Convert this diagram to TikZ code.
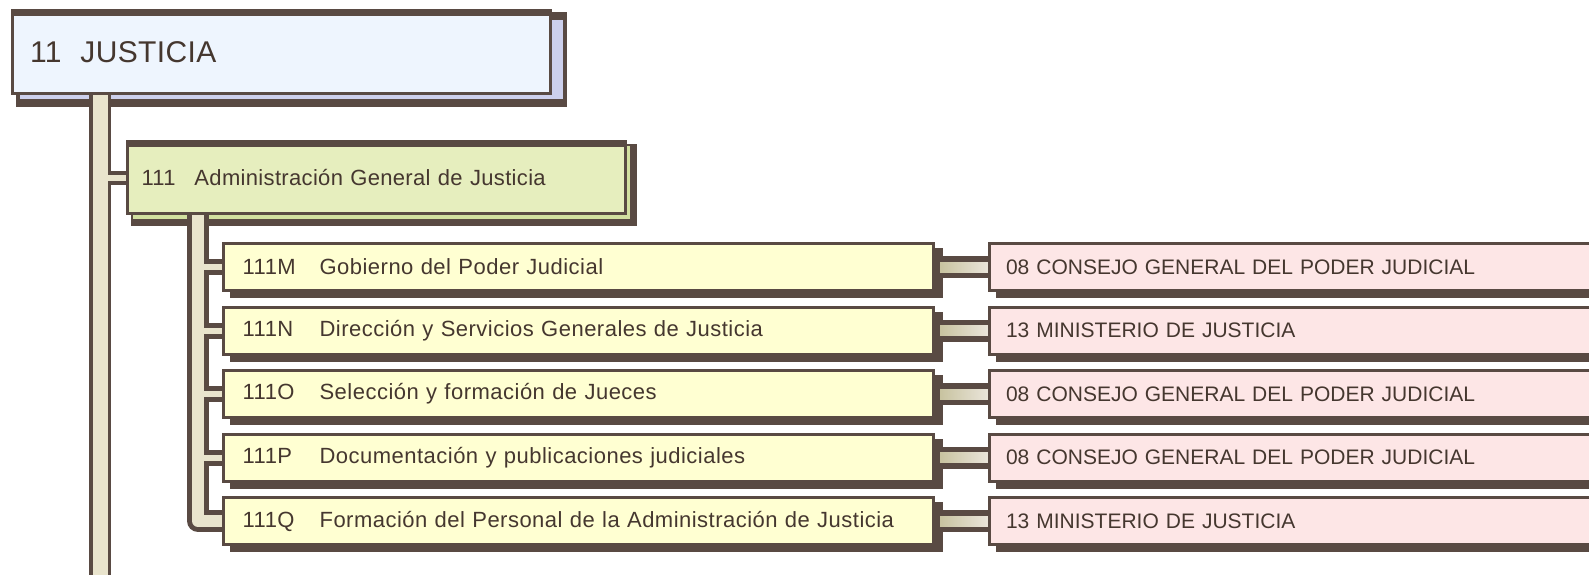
\documentclass[tikz,border=0pt]{standalone}
\usepackage{fontspec}
\setmainfont{Liberation Sans}
\usetikzlibrary{calc}
\pgfdeclarelayer{bglayer}
\pgfdeclarelayer{shadowlayer}
\pgfdeclarelayer{wirelayer}
\pgfsetlayers{bglayer,shadowlayer,wirelayer,main}
\definecolor{dk}{HTML}{594A43}
\definecolor{txt}{HTML}{45372F}
\definecolor{blu}{HTML}{EEF5FE}
\definecolor{lav}{HTML}{CDD0EC}
\definecolor{grn}{HTML}{E6EEBE}
\definecolor{grs}{HTML}{D2E0A0}
\definecolor{yel}{HTML}{FFFFD2}
\definecolor{pnk}{HTML}{FDE6E6}
\definecolor{bg}{HTML}{E9E4CD}
\definecolor{cl}{HTML}{C8C3A0}
\definecolor{cr}{HTML}{EBE6DC}
\newcommand\codebox[2]{\makebox[#1][l]{#2}}
\begin{document}
\begin{tikzpicture}[x=1pt,y=-1pt,
  box/.style={draw=dk, line width=3pt, outer sep=0pt, inner ysep=0pt, align=left, anchor=north west, text=txt},
  abox/.style={box, fill=blu, minimum height=83pt, text width=503pt, inner xsep=17.5pt, font=\fontsize{30}{34}\selectfont\addfontfeature{LetterSpace=1.2}},
  bbox/.style={box, fill=grn, minimum height=72pt, text width=470pt, inner xsep=14pt, font=\fontsize{22}{26}\selectfont\addfontfeature{LetterSpace=1.5}},
  ybox/.style={box, fill=yel, minimum height=47pt, text width=671.8pt, inner xsep=19.1pt, font=\fontsize{22}{26}\selectfont\addfontfeature{LetterSpace=2.2}},
  pbox/.style={box, fill=pnk, minimum height=47pt, text width=627pt, inner xsep=16.5pt, font=\fontsize{21}{25}\selectfont},
  wdark/.style={draw=dk, line join=round},
  wlight/.style={draw=bg, line join=round}]
\useasboundingbox (0,0) rectangle (1589,575);
\clip (0,0) rectangle (1589,575);

% main boxes
\node[abox] (a) at (12.5,10.5) {11\hspace*{19pt}JUSTICIA};
\node[bbox] (b) at (127.5,141.5) {\codebox{53pt}{111}Administración General de Justicia};
\node[ybox] (m) at (223.5,243.5) {\codebox{77pt}{111M}Gobierno del Poder Judicial};
\node[ybox] (n) at (223.5,307) {\codebox{77pt}{111N}Dirección y Servicios Generales de Justicia};
\node[ybox] (o) at (223.5,370.5) {\codebox{77pt}{111O}Selección y formación de Jueces};
\node[ybox] (p) at (223.5,434) {\codebox{77pt}{111P}Documentación y publicaciones judiciales};
\node[ybox] (q) at (223.5,497.5) {\codebox{77pt}{111Q}Formación del Personal de la Administración de Justicia};
\node[pbox] (pm) at (989.5,243.5) {08 CONSEJO GENERAL DEL PODER JUDICIAL};
\node[pbox] (pn) at (989.5,307) {13 MINISTERIO DE JUSTICIA};
\node[pbox] (po) at (989.5,370.5) {08 CONSEJO GENERAL DEL PODER JUDICIAL};
\node[pbox] (pp) at (989.5,434) {08 CONSEJO GENERAL DEL PODER JUDICIAL};
\node[pbox] (pq) at (989.5,497.5) {13 MINISTERIO DE JUSTICIA};

% thicker top edges
\draw[dk, line width=4pt] ([shift={(0,3.5)}]a.north west) -- ([shift={(0,3.5)}]a.north east);
\draw[dk, line width=4pt] ([shift={(0,3.5)}]b.north west) -- ([shift={(0,3.5)}]b.north east);

\coordinate (t1end) at (100,580);
\coordinate (t2x) at (198,0);

\begin{pgfonlayer}{bglayer}
  \fill[white] (0,0) rectangle (1589,575);
\end{pgfonlayer}

% shadows
\begin{pgfonlayer}{shadowlayer}
  \fill[dk] ([shift={(3.5,1.5)}]a.north west) rectangle ([shift={(16.5,13.5)}]a.south east);
  \fill[lav] ([shift={(7.5,9.5)}]a.north west) rectangle ([shift={(12.5,5.5)}]a.south east);
  \fill[dk] ([shift={(3.5,2.5)}]b.north west) rectangle ([shift={(11.5,12.5)}]b.south east);
  \fill[grs] ([shift={(5.5,4.5)}]b.north west) rectangle ([shift={(4.5,5.5)}]b.south east);
  \foreach \k in {m,n,o,p,q,pm,pn,po,pp,pq}{
    \fill[dk] ([shift={(6.5,4.5)}]\k.north west) rectangle ([shift={(9.5,7.5)}]\k.south east);
  }
\end{pgfonlayer}

% connectors
\begin{pgfonlayer}{wirelayer}
  \draw[wdark, line width=22pt] (t1end |- a.south) -- (t1end);
  \draw[wdark, line width=14pt] (t1end |- b.west) -- (b.west);
  \draw[wdark, line width=22pt] (t2x |- b.south) -- (t2x |- q.west) -- (q.west);
  \foreach \k in {m,n,o,p}{
    \draw[wdark, line width=16pt] (t2x |- \k.west) -- (\k.west);
  }
  \draw[wlight, line width=15pt] (t1end |- a.south) -- (t1end);
  \draw[wlight, line width=6pt] (t1end |- b.west) -- (b.west);
  \draw[wlight, line width=12pt] (t2x |- b.south) -- (t2x |- q.west) -- (q.west);
  \foreach \k in {m,n,o,p}{
    \draw[wlight, line width=6pt] (t2x |- \k.west) -- (\k.west);
  }
  \foreach \k/\j in {m/pm,n/pn,o/po,p/pp,q/pq}{
    \draw[dk, line width=22pt] (\k.east) -- (\j.west);
    \shade[left color=cl, right color=cr] ([shift={(6.5,-5)}]\k.east) rectangle ([shift={(0,5)}]\j.west);
  }
\end{pgfonlayer}
\end{tikzpicture}
\end{document}
